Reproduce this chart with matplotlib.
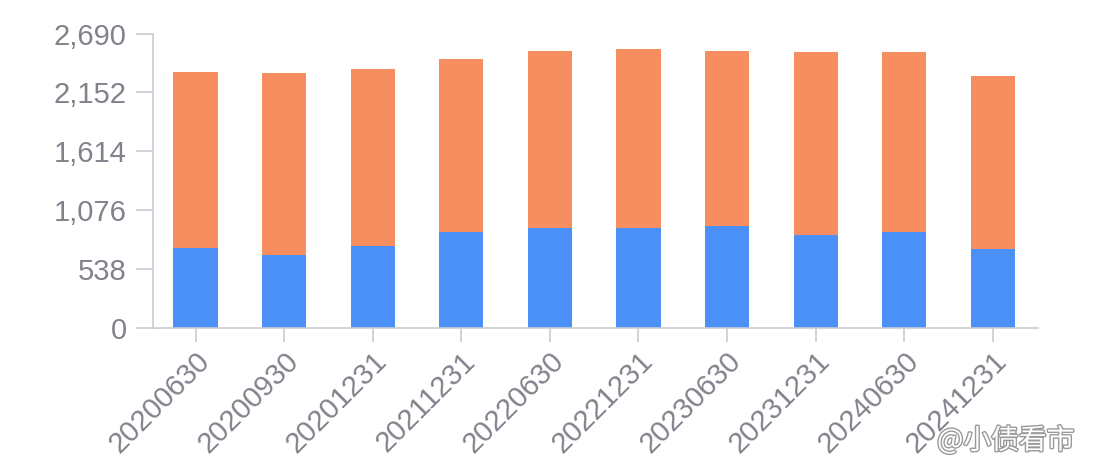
import matplotlib
matplotlib.use("Agg")
import matplotlib.pyplot as plt
import matplotlib.patheffects as pe
import numpy as np

# dates du rapport et valeurs
dates = ["20200630", "20200930", "20201231", "20211231", "20220630",
         "20221231", "20230630", "20231231", "20240630", "20241231"]
bleu = [729, 662, 750, 878, 915, 915, 933, 845, 878, 723]
total = [2340, 2328, 2370, 2461, 2529, 2547, 2529, 2520, 2520, 2306]
orange = [t - b for t, b in zip(total, bleu)]
yticks = [0, 538, 1076, 1614, 2152, 2690]

plt.rcParams['font.family'] = ['Liberation Sans', 'DejaVu Sans']

fig = plt.figure(figsize=(10.94, 4.70), dpi=100)
ax = fig.add_axes([0.1399, 0.3028, 0.8089, 0.6255])

x = np.arange(len(dates))
ax.bar(x, bleu, width=0.5, color="#4a90f7", zorder=2)
ax.bar(x, orange, width=0.5, bottom=bleu, color="#f68e5f", zorder=2)

ax.set_xlim(-0.48, 9.51)
ax.set_ylim(0, 2690)
ax.set_yticks(yticks)
ax.set_yticklabels([f"{v:,}" for v in yticks])
ax.set_xticks(x)
ax.set_xticklabels(dates, rotation=45, ha="right", rotation_mode="anchor")

axis_col = "#c9ccd6"
for s in ["top", "right"]:
    ax.spines[s].set_visible(False)
ax.spines["left"].set_color(axis_col)
ax.spines["bottom"].set_color(axis_col)
ax.spines["left"].set_linewidth(1.2)
ax.spines["bottom"].set_linewidth(1.2)
ax.tick_params(axis="y", length=12, width=1.2, color=axis_col, pad=7,
               labelsize=21, labelcolor="#82818c")
ax.tick_params(axis="x", length=10, width=1.2, color=axis_col, pad=4,
               labelsize=21, labelcolor="#82818c")

# filigrane
fig.text(0.982, 0.062, "@小债看市", ha="right", va="center", fontsize=20,
         color="#ffffff", family=["Noto Sans CJK SC", "DejaVu Sans"],
         path_effects=[pe.withStroke(linewidth=2, foreground="#9a9a9a")])

fig.savefig("out.png", dpi=100)
